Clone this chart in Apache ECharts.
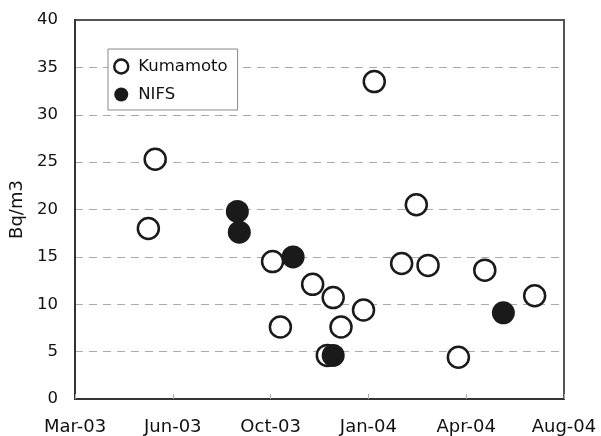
<!DOCTYPE html>
<html>
<head>
<meta charset="utf-8">
<script src="https://cdn.jsdelivr.net/npm/echarts@6/dist/echarts.min.js"></script>
<style>
html, body { margin: 0; padding: 0; background: #fff; }
#main { width: 601px; height: 436px; }
</style>
</head>
<body>
<div id="main"></div>
<script>
// x axis counts days from this date, ticks every 100 days
var baseDate = Date.UTC(2003, 2, 20);
var monthNames = ['Jan','Feb','Mar','Apr','May','Jun','Jul','Aug','Sep','Oct','Nov','Dec'];
var yTicks = [0, 5, 10, 15, 20, 25, 30, 35, 40];

var kumamotoDates = ['2003-06-03','2003-06-10','2003-10-08','2003-10-16','2003-11-18','2003-12-09',
    '2003-12-03','2003-12-17','2004-01-09','2004-01-20','2004-02-17','2004-03-03','2004-03-15',
    '2004-04-15','2004-05-12','2004-07-02'];
var kumamotoValues = [18.0, 25.3, 14.5, 7.6, 12.1, 10.7, 4.6, 7.6, 9.4, 33.5, 14.3, 20.5, 14.1, 4.4, 13.6, 10.9];

var nifsDates = ['2003-09-02','2003-09-04','2003-10-29','2003-12-09','2004-05-31'];
var nifsValues = [19.8, 17.6, 15.0, 4.6, 9.1];

function dayOf(s) {
    var p = s.split('-');
    return (Date.UTC(+p[0], +p[1] - 1, +p[2]) - baseDate) / 86400000;
}
function pairs(dates, vals) {
    var out = [];
    for (var i = 0; i < dates.length; i++) {
        out.push([dayOf(dates[i]), vals[i]]);
    }
    return out;
}

var myChart = echarts.init(document.getElementById('main'));
var font = 'DejaVu Sans';

var option = {
    backgroundColor: '#fff',
    animation: false,
    grid: {
        left: 75, right: 37, top: 20, bottom: 37,
        show: true,
        borderColor: '#555',
        borderWidth: 2
    },
    legend: {
        orient: 'vertical',
        left: 108,
        top: 49,
        padding: [9, 10, 7, 5],
        itemGap: 11,
        itemWidth: 14,
        itemHeight: 14,
        borderColor: '#888',
        borderWidth: 1,
        backgroundColor: '#fff',
        textStyle: { fontFamily: font, fontSize: 16.5, color: '#111', padding: [0, 0, 0, 5] },
        data: [
            { name: 'Kumamoto', icon: 'circle', itemStyle: { color: '#fff', borderColor: '#1a1a1a', borderWidth: 2.5 } },
            { name: 'NIFS', icon: 'circle', itemStyle: { color: '#1a1a1a', borderWidth: 0 } }
        ]
    },
    xAxis: {
        type: 'value',
        min: 0,
        max: 500,
        interval: 100,
        axisLine: { show: true, lineStyle: { color: '#333', width: 2 } },
        axisTick: { show: true, inside: true, length: 5, lineStyle: { color: '#aaa' } },
        splitLine: { show: false },
        axisLabel: {
            fontFamily: font, fontSize: 18, color: '#111', margin: 19,
            formatter: function (v) {
                var d = new Date(baseDate + v * 86400000);
                var yy = String(d.getUTCFullYear()).slice(2);
                return monthNames[d.getUTCMonth()] + '-' + yy;
            }
        }
    },
    yAxis: {
        type: 'value',
        min: yTicks[0],
        max: yTicks[yTicks.length - 1],
        interval: 5,
        name: 'Bq/m3',
        nameLocation: 'middle',
        nameGap: 47,
        nameTextStyle: { fontFamily: font, fontSize: 18, color: '#111' },
        axisLine: { show: true, lineStyle: { color: '#333', width: 2 } },
        axisTick: { show: false },
        splitLine: {
            show: true,
            showMinLine: false,
            showMaxLine: false,
            lineStyle: { color: '#aaa', type: [8, 6], width: 1 }
        },
        axisLabel: { fontFamily: font, fontSize: 16.5, color: '#111', margin: 17 }
    },
    series: [
        {
            name: 'Kumamoto',
            type: 'scatter',
            symbol: 'circle',
            symbolSize: 21,
            itemStyle: { color: '#fff', borderColor: '#1a1a1a', borderWidth: 2.5, opacity: 1 },
            data: pairs(kumamotoDates, kumamotoValues)
        },
        {
            name: 'NIFS',
            type: 'scatter',
            symbol: 'circle',
            symbolSize: 23,
            itemStyle: { color: '#1a1a1a', opacity: 1 },
            data: pairs(nifsDates, nifsValues)
        }
    ]
};
myChart.setOption(option);
</script>
</body>
</html>
